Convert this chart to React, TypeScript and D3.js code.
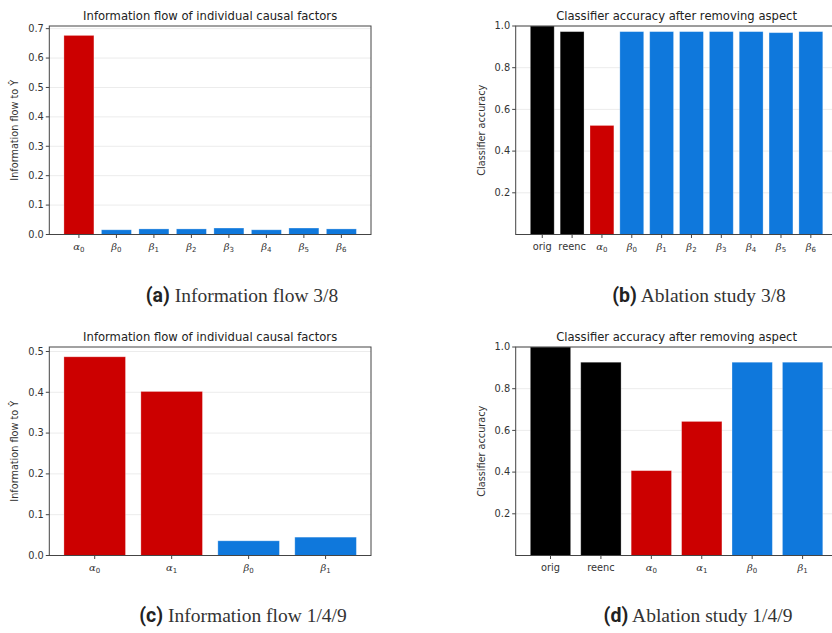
import * as d3 from "d3";
import { useEffect } from "react";

// panel (a) / (c): information flow per factor
const flowCats38 = ["α_0", "β_0", "β_1", "β_2", "β_3", "β_4", "β_5", "β_6"];
const flowVals38 = [0.677, 0.016, 0.019, 0.019, 0.022, 0.016, 0.022, 0.019];
const flowTicks38 = [0, 0.1, 0.2, 0.3, 0.4, 0.5, 0.6, 0.7];

const flowCats149 = ["α_0", "α_1", "β_0", "β_1"];
const flowVals149 = [0.487, 0.402, 0.036, 0.045];
const flowTicks149 = [0, 0.1, 0.2, 0.3, 0.4, 0.5];

// panel (b) / (d): ablation accuracy
const ablCats38 = ["orig", "reenc", "α_0", "β_0", "β_1", "β_2", "β_3", "β_4", "β_5", "β_6"];
const ablVals38 = [1.0, 0.973, 0.523, 0.973, 0.973, 0.973, 0.973, 0.973, 0.968, 0.973];

const ablCats149 = ["orig", "reenc", "α_0", "α_1", "β_0", "β_1"];
const ablVals149 = [1.0, 0.927, 0.407, 0.643, 0.927, 0.927];
const ablTicks = [0.2, 0.4, 0.6, 0.8, 1.0];

const RED = "#cc0000";
const BLUE = "#0f78dc";
const SPINE = "#444";
const MPL = "'DejaVu Sans', sans-serif";

const barColor = (c) => (c.startsWith("α") ? RED : c.startsWith("β") ? BLUE : "#000");

const AX_W = 321.7;
const AX_H = 208.5;

const TickLabel = ({ cat }) => {
    const [sym, sub] = cat.split("_");
    if (!sub) return <>{cat}</>;
    return (
        <>
            <tspan fontStyle="italic" fontFamily="'DejaVu Serif', serif" fontSize={10}>{sym}</tspan>
            <tspan fontSize="7" dy="2">{sub}</tspan>
        </>
    );
};

const BarPanel = ({ left, top, cats, vals, ticks, yMax, title, ylabel }) => {
    const n = cats.length;
    // matplotlib style x margins: 5% of the data span on each side
    const m = 0.05 * (n - 0.2);
    const x = d3.scaleLinear().domain([-0.4 - m, n - 0.6 + m]).range([0, AX_W]);
    const y = d3.scaleLinear().domain([0, yMax]).range([AX_H, 0]);
    const bw = x(0.8) - x(0);
    const fmt = d3.format(".1f");

    return (
        <g transform={`translate(${left},${top})`} fontFamily={MPL}>
            {ticks.map((t) => (
                <line key={"g" + t} x1={0} x2={AX_W} y1={y(t)} y2={y(t)} stroke="#ececec" strokeWidth={1} />
            ))}
            {vals.map((v, i) => (
                <rect
                    key={i}
                    x={x(i) - bw / 2}
                    width={bw}
                    y={y(v)}
                    height={AX_H - y(v)}
                    fill={barColor(cats[i])}
                    stroke="#fff"
                    strokeOpacity={0.35}
                    strokeWidth={0.8}
                />
            ))}
            <rect x={0} y={0} width={AX_W} height={AX_H} fill="none" stroke={SPINE} strokeWidth={1} />
            {ticks.map((t) => (
                <g key={"t" + t} transform={`translate(0,${y(t)})`}>
                    <line x1={-3.5} x2={0} stroke={SPINE} />
                    <text x={-5.5} dy="0.34em" textAnchor="end" fontSize={9.8} fill="#333">{fmt(t)}</text>
                </g>
            ))}
            {cats.map((c, i) => (
                <g key={"x" + i} transform={`translate(${x(i)},${AX_H})`}>
                    <line y1={0} y2={3.5} stroke={SPINE} />
                    <text y={15.5} textAnchor="middle" fontSize={9.8} fill="#333"><TickLabel cat={c} /></text>
                </g>
            ))}
            <text x={AX_W / 2} y={-6.5} textAnchor="middle" fontSize={11.6} fill="#222">{title}</text>
            <text transform={`translate(${-31},${AX_H / 2}) rotate(-90)`} textAnchor="middle" fontSize={9.7} fill="#333">
                {ylabel}
            </text>
        </g>
    );
};

const Caption = ({ x, y, tag, text }) => (
    <text x={x} y={y} textAnchor="middle" fontSize={19.5} fill="#222">
        <tspan fontFamily="Roboto, sans-serif" fontWeight="bold">({tag})</tspan>
        <tspan fontFamily="'Liberation Serif', serif" fill="#333"> {text}</tspan>
    </text>
);

export default function App() {
    useEffect(() => {
        document.body.style.margin = "0";
    }, []);

    const flowLabel = "Information flow to Ŷ";
    const flowTitle = "Information flow of individual causal factors";
    const ablTitle = "Classifier accuracy after removing aspect";

    return (
        <svg width={832} height={633} style={{ position: "absolute", left: 0, top: 0, background: "#fff", overflow: "hidden" }}>
            <BarPanel left={49.3} top={26} cats={flowCats38} vals={flowVals38} ticks={flowTicks38}
                yMax={0.709} title={flowTitle} ylabel={flowLabel} />
            <BarPanel left={515.7} top={26} cats={ablCats38} vals={ablVals38} ticks={ablTicks}
                yMax={1.0} title={ablTitle} ylabel="Classifier accuracy" />
            <BarPanel left={49.3} top={347} cats={flowCats149} vals={flowVals149} ticks={flowTicks149}
                yMax={0.511} title={flowTitle} ylabel={flowLabel} />
            <BarPanel left={515.7} top={347} cats={ablCats149} vals={ablVals149} ticks={ablTicks}
                yMax={1.0} title={ablTitle} ylabel="Classifier accuracy" />
            <Caption x={242} y={302} tag="a" text="Information flow 3/8" />
            <Caption x={699} y={302} tag="b" text="Ablation study 3/8" />
            <Caption x={243} y={622} tag="c" text="Information flow 1/4/9" />
            <Caption x={698} y={622} tag="d" text="Ablation study 1/4/9" />
        </svg>
    );
}
